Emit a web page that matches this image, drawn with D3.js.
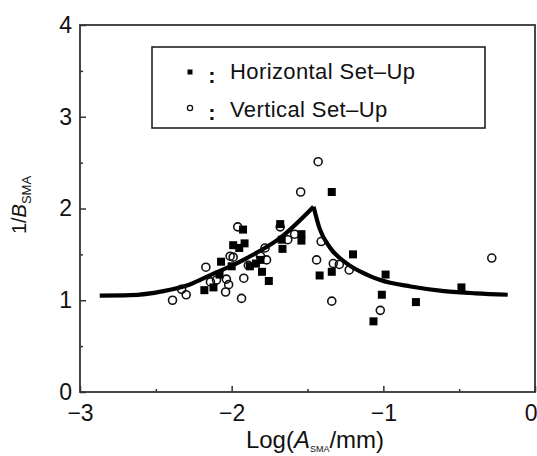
<!DOCTYPE html>
<html><head><meta charset="utf-8">
<script src="https://cdn.jsdelivr.net/npm/d3@7"></script>
<style>
body{margin:0;background:#fff;}
text{font-family:"Liberation Sans",Arial,Helvetica,sans-serif;fill:#111;}
</style></head>
<body><svg id="c" width="537" height="456"></svg>
<script>
// ---- data ----
const xTicks = [-3, -2, -1, 0];
const xMinorTicks = [-2.5, -1.5, -0.5];
const yTicks = [0, 1, 2, 3, 4];
const yMinorTicks = [0.5, 1.5, 2.5, 3.5];
const legendLabels = ["Horizontal Set\u2013Up", "Vertical Set\u2013Up"];

const horizontalX = [-1.34,-1.20,-0.985,-1.01,-1.065,-0.785,-0.485,-1.42,-1.34,-1.68,-1.67,-1.665,-1.54,-1.54,-1.925,-1.915,-1.99,-1.95,-2.07,-2.00,-1.84,-1.80,-1.755,-1.88,-2.12,-2.18,-2.08,-1.81];
const horizontalY = [2.18,1.50,1.28,1.06,0.77,0.98,1.14,1.27,1.31,1.83,1.66,1.56,1.72,1.65,1.77,1.62,1.60,1.57,1.42,1.37,1.40,1.31,1.21,1.37,1.14,1.11,1.28,1.44];

const verticalX = [-1.43,-1.545,-1.41,-1.44,-1.33,-1.29,-1.225,-1.34,-1.02,-0.285,-1.96,-1.68,-1.63,-1.585,-2.17,-2.01,-2.035,-2.02,-2.04,-1.92,-1.935,-2.39,-2.30,-2.33,-1.89,-1.81,-1.78,-1.77,-2.14,-2.10,-1.99];
const verticalY = [2.51,2.18,1.64,1.44,1.40,1.39,1.33,0.99,0.89,1.46,1.80,1.80,1.66,1.72,1.36,1.48,1.23,1.17,1.09,1.24,1.02,1.00,1.06,1.12,1.38,1.48,1.57,1.44,1.20,1.22,1.47];

const curveX = [-2.87,-2.67,-2.45,-2.28,-2.12,-1.97,-1.90,-1.68,-1.46,-1.42,-1.35,-1.24,-1.11,-1.02,-0.82,-0.60,-0.39,-0.18];
const curveY = [1.05,1.055,1.10,1.17,1.29,1.40,1.46,1.68,2.02,1.78,1.57,1.40,1.28,1.22,1.15,1.10,1.075,1.06];

// ---- drawing ----
const svg = d3.select("#c");
const L = 80, R = 535, T = 25, B = 392;
const x = d3.scaleLinear().domain([-3, 0]).range([L, R]);
const y = d3.scaleLinear().domain([0, 4]).range([B, T]);
const fmt = d => d3.format("d")(d);

// axes
const gx = svg.append("g").attr("transform", `translate(0,${B})`)
  .call(d3.axisBottom(x).tickValues(xTicks).tickSize(-6).tickPadding(13).tickFormat(fmt));
const gxm = svg.append("g").attr("transform", `translate(0,${B})`)
  .call(d3.axisBottom(x).tickValues(xMinorTicks).tickSize(-3).tickFormat(""));
const gy = svg.append("g").attr("transform", `translate(${L},0)`)
  .call(d3.axisLeft(y).tickValues(yTicks).tickSize(-6).tickPadding(8).tickFormat(fmt));
const gym = svg.append("g").attr("transform", `translate(${L},0)`)
  .call(d3.axisLeft(y).tickValues(yMinorTicks).tickSize(-3).tickFormat(""));
[gx, gxm, gy, gym].forEach(g => {
  g.select(".domain").remove();
  g.selectAll("line").attr("stroke", "#333").attr("stroke-width", 1.5);
  g.selectAll("text").attr("font-size", 23).attr("fill", "#111")
    .attr("font-family", "'Liberation Sans',Arial,sans-serif");
});
// keep the last x label inside the window
gx.selectAll(".tick").filter(d => d === 0).select("text").attr("text-anchor", "end").attr("x", 2);

// frame
svg.append("rect").attr("x", L).attr("y", T).attr("width", R - L).attr("height", B - T)
  .attr("fill", "none").attr("stroke", "#333").attr("stroke-width", 1.8);

// curve
const pts = curveX.map((v, i) => [v, curveY[i]]);
const peak = d3.maxIndex(curveY);
const line = d3.line().x(d => x(d[0])).y(d => y(d[1])).curve(d3.curveMonotoneX);
[pts.slice(0, peak + 1), pts.slice(peak)].forEach(seg => {
  svg.append("path").attr("d", line(seg)).attr("fill", "none")
    .attr("stroke", "#000").attr("stroke-width", 4.2).attr("stroke-linejoin", "miter");
});

// vertical set-up (open circles)
svg.append("g").selectAll("circle").data(verticalX.map((v, i) => [v, verticalY[i]]))
  .join("circle").attr("cx", d => x(d[0])).attr("cy", d => y(d[1])).attr("r", 4)
  .attr("fill", "#fff").attr("fill-opacity", 0).attr("stroke", "#111").attr("stroke-width", 1.6);

// horizontal set-up (filled squares)
const s = 8;
svg.append("g").selectAll("rect").data(horizontalX.map((v, i) => [v, horizontalY[i]]))
  .join("rect").attr("x", d => x(d[0]) - s / 2).attr("y", d => y(d[1]) - s / 2)
  .attr("width", s).attr("height", s).attr("fill", "#000");

// legend
const lg = svg.append("g");
lg.append("rect").attr("x", 152).attr("y", 47).attr("width", 333).attr("height", 81)
  .attr("fill", "#fff").attr("stroke", "#222").attr("stroke-width", 1.6);
lg.append("rect").attr("x", 187.5).attr("y", 69.5).attr("width", 5).attr("height", 5).attr("fill", "#000");
lg.append("circle").attr("cx", 190).attr("cy", 108).attr("r", 2.6)
  .attr("fill", "none").attr("stroke", "#111").attr("stroke-width", 1.3);
[83, 119.5].forEach(b => lg.append("text").attr("x", 212).attr("y", b).attr("text-anchor", "middle")
  .attr("font-size", 22).attr("font-weight", "bold").text(":"));
lg.append("text").attr("x", 230).attr("y", 79).attr("font-size", 22).attr("letter-spacing", 0.4).text(legendLabels[0]);
lg.append("text").attr("x", 230).attr("y", 117).attr("font-size", 22).attr("letter-spacing", 0.4).text(legendLabels[1]);

// axis titles
const xt = svg.append("text").attr("x", 315).attr("y", 448).attr("text-anchor", "middle").attr("font-size", 24);
xt.append("tspan").text("Log(");
xt.append("tspan").attr("font-style", "italic").text("A");
xt.append("tspan").attr("font-size", 9).attr("dy", 4).text("SMA");
xt.append("tspan").attr("dy", -4).text("/mm)");

const yt = svg.append("text").attr("transform", "translate(26,205) rotate(-90)")
  .attr("text-anchor", "middle").attr("font-size", 20);
yt.append("tspan").text("1/");
yt.append("tspan").attr("font-style", "italic").text("B");
yt.append("tspan").attr("font-size", 13).attr("dy", 5).text("SMA");
</script></body></html>
